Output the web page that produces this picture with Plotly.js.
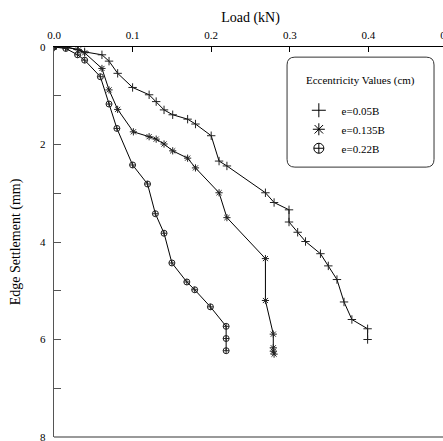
<!DOCTYPE html>
<html>
<head>
<meta charset="utf-8">
<script src="https://cdn.plot.ly/plotly-3.0.1.min.js"></script>
<style>
html,body{margin:0;padding:0;overflow:hidden;background:#fff;}
#chart{width:447px;height:441px;}
#chart svg text{font-family:"Liberation Serif", serif !important;}
</style>
</head>
<body>
<div id="chart"></div>
<script>
// e = 0.05B
const load1 = [0, 0.015, 0.030, 0.039, 0.061, 0.070, 0.081, 0.100, 0.121, 0.130, 0.140, 0.151, 0.170, 0.180, 0.200, 0.210, 0.220, 0.269, 0.280, 0.299, 0.299, 0.310, 0.320, 0.339, 0.349, 0.360, 0.369, 0.379, 0.399, 0.399];
const settle1 = [0, 0.00, 0.05, 0.10, 0.16, 0.29, 0.54, 0.83, 0.98, 1.12, 1.29, 1.39, 1.48, 1.58, 1.82, 2.34, 2.44, 2.99, 3.19, 3.34, 3.59, 3.80, 3.99, 4.24, 4.49, 4.77, 5.23, 5.59, 5.78, 6.00];
// e = 0.135B
const load2 = [0, 0.015, 0.031, 0.039, 0.061, 0.070, 0.081, 0.101, 0.121, 0.130, 0.140, 0.151, 0.170, 0.180, 0.210, 0.220, 0.269, 0.269, 0.279, 0.279, 0.279, 0.280];
const settle2 = [0, 0.00, 0.06, 0.12, 0.44, 0.88, 1.28, 1.74, 1.84, 1.89, 1.99, 2.13, 2.28, 2.48, 2.99, 3.50, 4.34, 5.20, 5.89, 6.17, 6.24, 6.30];
// e = 0.22B
const load3 = [0, 0.015, 0.030, 0.039, 0.059, 0.070, 0.080, 0.100, 0.119, 0.129, 0.140, 0.150, 0.169, 0.179, 0.199, 0.219, 0.219, 0.219];
const settle3 = [0, 0.03, 0.16, 0.27, 0.61, 1.17, 1.67, 2.42, 2.81, 3.42, 3.82, 4.43, 4.82, 4.98, 5.33, 5.73, 5.98, 6.23];

const seriesNames = ['e=0.05B', 'e=0.135B', 'e=0.22B'];
const legendTitle = 'Eccentricity Values (cm)';
const symbols = ['cross-thin', 'asterisk', 'circle-cross-open'];
const loads = [load1, load2, load3];
const settles = [settle1, settle2, settle3];

const xTickVals = [0, 0.1, 0.2, 0.3, 0.4, 0.5];
const xTickText = ['0.0', '0.1', '0.2', '0.3', '0.4', '0.5'];
const yTickVals = [0, 1, 2, 3, 4, 5, 6, 7, 8];
const yTickText = ['0', '', '2', '', '4', '', '6', '', '8'];

const FONT = 'Liberation Serif';

const traces = [];
for (let i = 0; i < 3; i++) {
  traces.push({
    x: loads[i], y: settles[i], type: 'scatter', mode: 'lines+markers',
    showlegend: false,
    line: {color: '#000', width: 1},
    marker: {symbol: symbols[i], size: 6, color: '#222', line: {color: '#222', width: 1}}
  });
}
for (let i = 0; i < 3; i++) {
  traces.push({
    x: [null], y: [null], type: 'scatter', mode: 'markers', name: '\u00a0' + seriesNames[i],
    marker: {symbol: symbols[i], size: 10, color: '#000', line: {color: '#000', width: 1}}
  });
}

// rounded legend box (paper coords)
const bx0 = 0.593, bx1 = 0.967, by0 = 0.692, by1 = 0.974, rx = 0.02, ry = 0.02;
const boxPath = `M ${bx0+rx},${by1} L ${bx1-rx},${by1} Q ${bx1},${by1} ${bx1},${by1-ry} L ${bx1},${by0+ry} Q ${bx1},${by0} ${bx1-rx},${by0} L ${bx0+rx},${by0} Q ${bx0},${by0} ${bx0},${by0+ry} L ${bx0},${by1-ry} Q ${bx0},${by1} ${bx0+rx},${by1} Z`;

const layout = {
  width: 447, height: 441,
  margin: {l: 54, r: 0, t: 47, b: 4},
  paper_bgcolor: '#fff', plot_bgcolor: '#fff',
  font: {family: FONT, color: '#000', size: 11},
  showlegend: true,
  legend: {
    x: 0.623, y: 0.875, xanchor: 'left', yanchor: 'top',
    bgcolor: 'rgba(0,0,0,0)', borderwidth: 0,
    font: {family: FONT, size: 11, color: '#000'},
    itemsizing: 'trace', tracegroupgap: 0
  },
  annotations: [
    {text: legendTitle, xref: 'paper', yref: 'paper', x: 0.779, y: 0.913,
     xanchor: 'center', yanchor: 'middle', showarrow: false,
     font: {family: FONT, size: 11, color: '#000'}}
  ],
  xaxis: {
    side: 'top', range: [0, 0.5], tickvals: xTickVals, ticktext: xTickText,
    ticks: 'inside', ticklen: 5, tickcolor: '#000', tickwidth: 1,
    showline: true, linecolor: '#000', linewidth: 1,
    showgrid: false, zeroline: false, ticklabeloverflow: 'allow',
    tickfont: {family: FONT, size: 11}, ticklabelstandoff: 3,
    title: {text: 'Load (kN)', font: {family: FONT, size: 14}, standoff: 2}
  },
  yaxis: {
    range: [8, 0], tickvals: yTickVals, ticktext: yTickText,
    ticks: 'inside', ticklen: 7, tickcolor: '#555', tickwidth: 1,
    showline: true, linecolor: '#555', linewidth: 1.2,
    showgrid: false, zeroline: false, ticklabeloverflow: 'allow',
    tickfont: {family: FONT, size: 11}, ticklabelstandoff: 5,
    title: {text: 'Edge Settlement (mm)', font: {family: FONT, size: 14}, standoff: 16}
  },
  shapes: [
    {type: 'line', xref: 'paper', yref: 'paper', x0: 0, x1: 1, y0: 0, y1: 0, line: {color: '#777', width: 1.5}},
    {type: 'path', xref: 'paper', yref: 'paper', path: boxPath, line: {color: '#333', width: 1}}
  ]
};

Plotly.newPlot('chart', traces, layout, {staticPlot: true, displayModeBar: false});
</script>
</body>
</html>
